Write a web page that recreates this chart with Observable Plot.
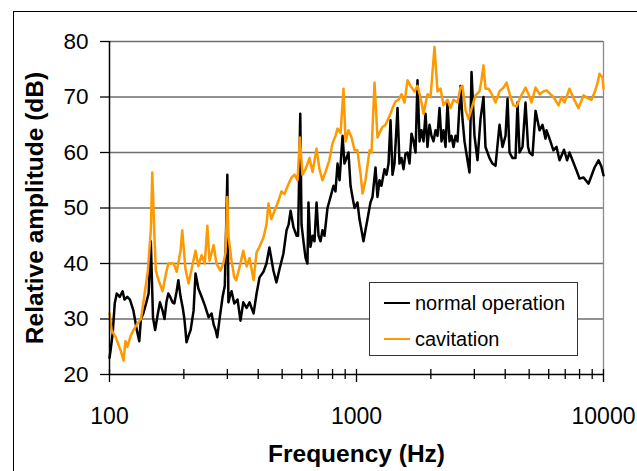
<!DOCTYPE html>
<html>
<head>
<meta charset="utf-8">
<script src="https://cdn.jsdelivr.net/npm/d3@7"></script>
<script src="https://cdn.jsdelivr.net/npm/@observablehq/plot@0.6"></script>
<style>
  html, body { margin: 0; padding: 0; background: #fff; }
  #wrap { position: relative; width: 637px; height: 471px; overflow: hidden; font-family: "Liberation Sans", Arial, sans-serif; }
  #frame { position: absolute; left: 13px; top: 11px; width: 700px; height: 600px; border: 1.5px solid #000; box-sizing: border-box; }
  #chart { position: absolute; left: 0; top: 0; }
  #legend { position: absolute; left: 369px; top: 282px; width: 209px; height: 74px; box-sizing: border-box; border: 1px solid #333; background: #fff; }
  .item { position: absolute; left: 0; height: 24px; line-height: 24px; font-size: 20px; color: #000; }
  .swatch { position: absolute; left: 14px; top: 11px; width: 26px; height: 2px; }
  .label { position: absolute; left: 45px; top: 0; white-space: nowrap; }
</style>
</head>
<body>
<div id="wrap">
  <div id="frame"></div>
  <div id="chart"></div>
  <div id="legend"></div>
</div>
<script>
// ---- data (frequency in Hz, relative amplitude in dB) ----
const freqNormal = [
  100,101,103,105,107,110,113,115,118,121,
  125,129,132,134,137,141,144,147,150,153,
  157,160,164,167,170,173,176,180,183,187,
  190,194,198,201,203,205,209,213,219,223,
  229,236,243,252,259,264,269,273,279,287,
  293,300,303,309,312,320,330,339,348,359,
  369,383,394,405,420,432,444,461,474,488,
  506,521,531,541,556,572,580,592,599,610,
  622,633,639,651,664,676,689,702,715,728,
  742,763,785,807,822,838,854,878,894,911,
  928,946,963,982,1009,1028,1048,1067,1087,1108,
  1139,1161,1194,1216,1239,1262,1298,1323,1348,1373,
  1399,1425,1466,1493,1521,1550,1579,1609,1639,1670,
  1702,1734,1766,1800,1833,1868,1903,1938,1975,2012,
  2050,2089,2128,2168,2209,2250,2293,2336,2380,2425,
  2470,2517,2564,2637,2686,2737,2814,2868,2922,3004,
  3090,3177,3267,3328,3391,3455,3553,3654,3793,3900,
  4012,4087,4164,4282,4404,4486,4571,4700,4834,4950,
  5018,5160,5307,5508,5662,5824,5880,6045,6270,6455,
  6637,6920,7120,7283,7490,7770,7997,8300,8700,8940,
  9200,9550,9800,10000
];
const dbNormal = [
  23,24.3,27.4,32.8,34.6,34,35,33.5,34,33.5,
  31.5,28,26,30,31,33,34.6,44,30.3,28,
  31,33,31.5,30,33,34.6,34,33,32.8,35,
  37,34,32,30,28,25.8,27,28,31.5,38.2,
  35.5,34,32.5,30.3,31,29,28,26.7,30,34,
  36,56,33,34.6,35,32.8,33.5,29.7,33,32,
  33,31,34.6,37.5,38.5,40,42.9,38.7,36.6,39,
  41.8,46,47,49.5,46.5,45,45,67,47,44,
  41,40,51,43,45,44,51,45,44,46,
  45,50,52,54,53,58,55,63,58,59,
  60,54,52,50,51,48,46,44,46,48,
  51,52,57.3,52,55,54,57,56,58,65.8,
  56,58,68,58,59,57,59.8,60,58,63.4,
  62,60,73,62,64,62,67,61,65,63,
  62,64,63,68,62,64,61,69,62,63,
  61,63,62,72,66,62,58.6,56.4,74.5,63,
  58.6,66,70,61,60,59,58,57.6,65,61,
  63,69.7,60,59,59,69,60,61,69,61,
  60,59.5,67.5,64,65,62.5,64,62.5,60.4,61,
  58.6,60.5,58.6,60,58.6,56.8,55.3,55.5,54.4,55.8,
  57.3,58.6,57.5,55.9
];
const freqCavitation = [
  100,102,106,111,114,116,118,122,125,129,
  134,137,143,147,149,152,154,158,164,169,
  173,182,187,194,197,203,209,215,223,229,
  236,243,249,254,264,271,281,289,295,300,
  303,312,320,326,339,348,359,369,383,394,
  405,420,432,440,452,466,483,497,511,531,
  546,561,577,590,604,622,645,664,689,708,
  728,749,776,799,822,838,862,886,903,928,
  955,982,1009,1028,1038,1058,1087,1130,1150,1183,
  1216,1239,1273,1311,1336,1373,1399,1439,1480,1521,
  1564,1609,1654,1719,1766,1816,1868,1938,1994,2069,
  2128,2189,2250,2336,2403,2470,2564,2637,2686,2764,
  2841,2949,3033,3147,3206,3267,3328,3423,3521,3654,
  3793,3937,4050,4203,4323,4445,4614,4834,4971,5113,
  5307,5508,5717,5880,6100,6270,6577,6760,6953,7283,
  7560,7919,8300,8613,8940,9200,9458,9634,9908,10000
];
const dbCavitation = [
  31,28,26.7,24.3,22.5,26,25,27,28,29,
  30,32.8,38.7,46,56.4,45,38.7,37,35,38,
  40,40,38.5,42.3,46,39,36.4,39,42.3,39.5,
  41.5,40,46.8,40.5,43.3,40,38.7,40,42,52,
  45,40.5,37.5,37,40,42.3,39.5,41,37,42,
  43,44.7,47,50.8,48,49.5,51.3,53,52.5,54.4,
  55.5,56,55,62.7,56,57,59,56.5,60.7,57,
  55,56.5,58.6,61.6,63,64.3,63.5,71.5,62,64,
  62.7,60.4,60.4,57.5,56.2,52.6,55,60.4,60,72.6,
  62.7,63.5,64.6,65,65.8,67,68,69.2,69.5,70.5,
  69,73,72,71,72,69.9,67,70.5,70,79,
  71,71.5,68.5,69.5,68,69.5,69,71.7,72,67.6,
  66,68.5,70.3,71,73,75.7,71.5,71.5,70.6,69,
  71,71.7,72.6,70,68.5,68.3,70,71.7,70.5,69,
  71.7,70.5,71,71.2,70.5,70,68.5,70,69,71.5,
  69.8,68,70.3,69.8,69.5,70.8,72.5,74.2,73.5,71.5
];
const yTicks = [20, 30, 40, 50, 60, 70, 80];
const xMajorTicks = [100, 1000, 10000];
const xMinorTicks = [200, 300, 400, 500, 600, 700, 800, 900, 2000, 3000, 4000, 5000, 6000, 7000, 8000, 9000];
const seriesNames = ["normal operation", "cavitation"];
const seriesColors = ["#000000", "#ff9900"];
const xTitle = "Frequency (Hz)";
const yTitle = "Relative amplitude (dB)";

const normal = freqNormal.map((f, i) => ({f, db: dbNormal[i]}));
const cavitation = freqCavitation.map((f, i) => ({f, db: dbCavitation[i]}));

const chart = Plot.plot({
  width: 637,
  height: 471,
  marginLeft: 109,
  marginRight: 34,
  marginTop: 41,
  marginBottom: 97,
  x: {type: "log", domain: [100, 10000]},
  y: {domain: [20, 80]},
  style: {fontFamily: "'Liberation Sans', Arial, sans-serif", background: "transparent", color: "#000", overflow: "visible"},
  marks: [
    Plot.ruleY(yTicks.slice(1), {stroke: "#6e6e6e", strokeWidth: 1.3}),
    Plot.ruleX([10000], {stroke: "#8a8a8a", strokeWidth: 1.3}),
    Plot.line(normal, {x: "f", y: "db", stroke: seriesColors[0], strokeWidth: 2.5, strokeLinejoin: "round"}),
    Plot.line(cavitation, {x: "f", y: "db", stroke: seriesColors[1], strokeWidth: 2.5, strokeLinejoin: "round"}),
    Plot.ruleX([100], {stroke: "#000", strokeWidth: 1.5}),
    Plot.ruleY([20], {stroke: "#000", strokeWidth: 1.5}),
    Plot.axisY({ticks: yTicks, tickSize: 9, tickPadding: 12, fontSize: 22.5, strokeWidth: 1.3, label: null, tickFormat: d => String(d)}),
    Plot.axisX({ticks: xMinorTicks, tickSize: 10, dy: -5, strokeWidth: 1.3, label: null, tickFormat: () => ""}),
    Plot.axisX({ticks: xMajorTicks, tickSize: 13, dy: -5, strokeWidth: 1.3, label: null, tickFormat: () => ""}),
    Plot.axisX({ticks: xMajorTicks, tickSize: 0, tickPadding: 33, fontSize: 23, label: null, tickFormat: d => String(d)}),
    Plot.text([xTitle], {frameAnchor: "bottom", text: d => d, dy: 80, fontSize: 24.5, fontWeight: "bold", lineAnchor: "middle", textAnchor: "middle"}),
    Plot.text([yTitle], {frameAnchor: "left", text: d => d, dx: -74, rotate: -90, fontSize: 24.5, fontWeight: "bold", lineAnchor: "middle", textAnchor: "middle"})
  ]
});
document.getElementById("chart").appendChild(chart);

const legend = document.getElementById("legend");
seriesNames.forEach((name, i) => {
  const item = document.createElement("div");
  item.className = "item";
  item.style.top = (8 + i * 36) + "px";
  const sw = document.createElement("div");
  sw.className = "swatch";
  sw.style.background = seriesColors[i];
  const lb = document.createElement("div");
  lb.className = "label";
  lb.textContent = name;
  item.appendChild(sw);
  item.appendChild(lb);
  legend.appendChild(item);
});
</script>
</body>
</html>
